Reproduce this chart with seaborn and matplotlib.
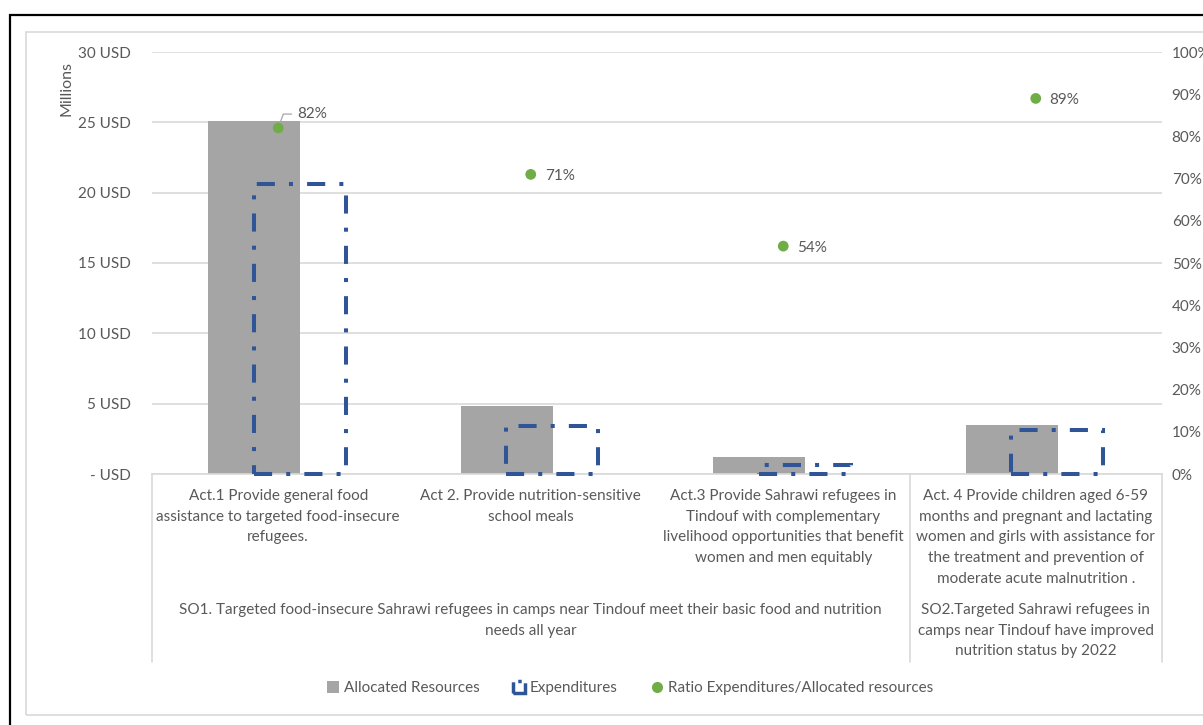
import numpy as np
import pandas as pd
import seaborn as sns
import matplotlib.pyplot as plt
from matplotlib import transforms
from matplotlib.patches import Patch, Rectangle
from matplotlib.lines import Line2D

# data (USD millions)
act_keys = ["Act.1", "Act.2", "Act.3", "Act.4"]
act_labels = [
    "Act.1 Provide general food\nassistance to targeted food-insecure\nrefugees.",
    "Act 2. Provide nutrition-sensitive\nschool meals",
    "Act.3 Provide Sahrawi refugees in\nTindouf with complementary\nlivelihood opportunities that benefit\nwomen and men equitably",
    "Act. 4 Provide children aged 6-59\nmonths and pregnant and lactating\nwomen and girls with assistance for\nthe treatment and prevention of\nmoderate acute malnutrition .",
]
so_labels = [
    "SO1. Targeted food-insecure Sahrawi refugees in camps near Tindouf meet their basic food and nutrition\nneeds all year",
    "SO2.Targeted Sahrawi refugees in\ncamps near Tindouf have improved\nnutrition status by 2022",
]
so_size = [3, 1]  # activities under each strategic objective
allocated = [25.1, 4.8, 1.2, 3.5]
expenditures = [20.6, 3.4, 0.64, 3.1]
ratio = [0.82, 0.71, 0.54, 0.89]

df = pd.DataFrame({"act": act_keys, "allocated": allocated,
                   "expenditures": expenditures, "ratio": ratio})

GREY = "#A5A5A5"
BLUE = "#2F5597"
GREEN = "#70AD47"
TXT = "#595959"
GRID = "#D9D9D9"

sns.set_style("white")
plt.rcParams["font.family"] = ["Lato", "DejaVu Sans"]
plt.rcParams["font.size"] = 11
plt.rcParams["text.color"] = TXT

fig = plt.figure(figsize=(12.03, 7.25), dpi=100)
ax = fig.add_axes([152 / 1203, 1 - 474 / 725, 1010 / 1203, 422 / 725])

bar_w = 0.364
# allocated resources, shifted left
sns.barplot(data=df, x="act", y="allocated", color=GREY, saturation=1,
            width=bar_w, errorbar=None, ax=ax, zorder=2)
n_alloc = len(ax.patches)
for p in ax.patches:
    p.set_x(p.get_x() - 0.095)
    p.set_edgecolor("none")

# expenditures, dash-dot outline, shifted right
sns.barplot(data=df, x="act", y="expenditures", color=BLUE, saturation=1,
            width=bar_w, errorbar=None, ax=ax, zorder=3)
for p in ax.patches[n_alloc:]:
    p.set_x(p.get_x() + 0.085)
    p.set_facecolor("none")
    p.set_edgecolor(BLUE)
    p.set_linewidth(2.9)
    p.set_linestyle((0, (4.5, 3.5, 1, 3.5)))
    p.set_clip_on(False)

ax.set_xlim(-0.5, len(act_keys) - 0.5)
ax.set_ylim(0, 30)
ax.set_yticks(np.arange(0, 31, 5))
ax.set_yticklabels(["- USD" if v == 0 else f"{v} USD" for v in range(0, 31, 5)])
ax.yaxis.grid(True, color=GRID, lw=1.2)
ax.set_axisbelow(True)
ax.set_xlabel("")
ax.set_ylabel("")
ax.set_xticks(range(len(act_keys)))
ax.set_xticklabels(act_labels, linespacing=1.6)
ax.tick_params(axis="x", length=0, pad=11, labelcolor=TXT, labelsize=11)
ax.tick_params(axis="y", length=0, pad=15, labelcolor=TXT, labelsize=11)
for s in ["top", "left", "right"]:
    ax.spines[s].set_visible(False)
ax.spines["bottom"].set_color(GRID)
ax.spines["bottom"].set_linewidth(1.2)

# ratio on secondary axis
ax2 = ax.twinx()
sns.scatterplot(x=np.arange(len(ratio)), y=df["ratio"], color=GREEN, s=60,
                edgecolor="none", ax=ax2, zorder=5, legend=False)
ax2.set_ylim(0, 1)
ax2.set_yticks(np.arange(0, 1.01, 0.1))
ax2.set_yticklabels([f"{int(round(v * 100))}%" for v in np.arange(0, 1.01, 0.1)])
ax2.tick_params(axis="y", length=0, pad=7, labelcolor=TXT, labelsize=11)
ax2.set_ylabel("")
for s in ax2.spines.values():
    s.set_visible(False)

for i, r in enumerate(ratio):
    if i == 0:
        ax2.annotate(f"{r:.0%}", (i, r), xytext=(14, 10), textcoords="offset points",
                     ha="left", va="center", fontsize=11, color=TXT,
                     arrowprops=dict(arrowstyle="-", color="#A6A6A6", lw=0.9,
                                     shrinkA=2, shrinkB=4,
                                     connectionstyle="angle,angleA=0,angleB=70,rad=0"))
    else:
        ax2.annotate(f"{r:.0%}", (i, r), xytext=(10, -1), textcoords="offset points",
                     ha="left", va="center", fontsize=11, color=TXT)

# multi-level category axis
trans = transforms.blended_transform_factory(ax.transData, ax.transAxes)
bottom = (474 - 662) / 422
start = 0
edges = [-0.5]
for lab, n in zip(so_labels, so_size):
    centre = start + (n - 1) / 2
    ax.text(centre, (474 - 603) / 422, lab, transform=trans, ha="center", va="top",
            fontsize=11, color=TXT, linespacing=1.6)
    start += n
    edges.append(start - 0.5)
for e in edges:
    ax.plot([e, e], [0, bottom], transform=trans, color=GRID, lw=1.2, clip_on=False)

fig.text(66 / 1203, 1 - 88 / 725, "Millions", rotation=90, ha="center", va="center",
         fontsize=11.5, color=TXT)

handles = [
    Patch(facecolor=GREY, edgecolor="none"),
    Patch(facecolor="none", edgecolor=BLUE, lw=2.5, linestyle="-."),
    Line2D([], [], marker="o", color="none", markerfacecolor=GREEN,
           markeredgecolor="none", markersize=8),
]
fig.legend(handles, ["Allocated Resources", "Expenditures",
                     "Ratio Expenditures/Allocated resources"],
           loc="center", bbox_to_anchor=(630 / 1203, 1 - 688 / 725), ncol=3,
           frameon=False, handlelength=0.8, handleheight=0.8, handletextpad=0.3,
           columnspacing=2.2, fontsize=11, labelcolor=TXT)

# chart frames
fig.add_artist(Rectangle((26 / 1203, 1 - 715 / 725), 1.0, (715 - 32) / 725,
                         transform=fig.transFigure, fill=False, edgecolor=GRID, lw=1.2))
fig.add_artist(Rectangle((10 / 1203, -0.1), 1.2, 1 - 15 / 725 + 0.1,
                         transform=fig.transFigure, fill=False, edgecolor="black", lw=1.6))

fig.savefig("out.png", dpi=100)
